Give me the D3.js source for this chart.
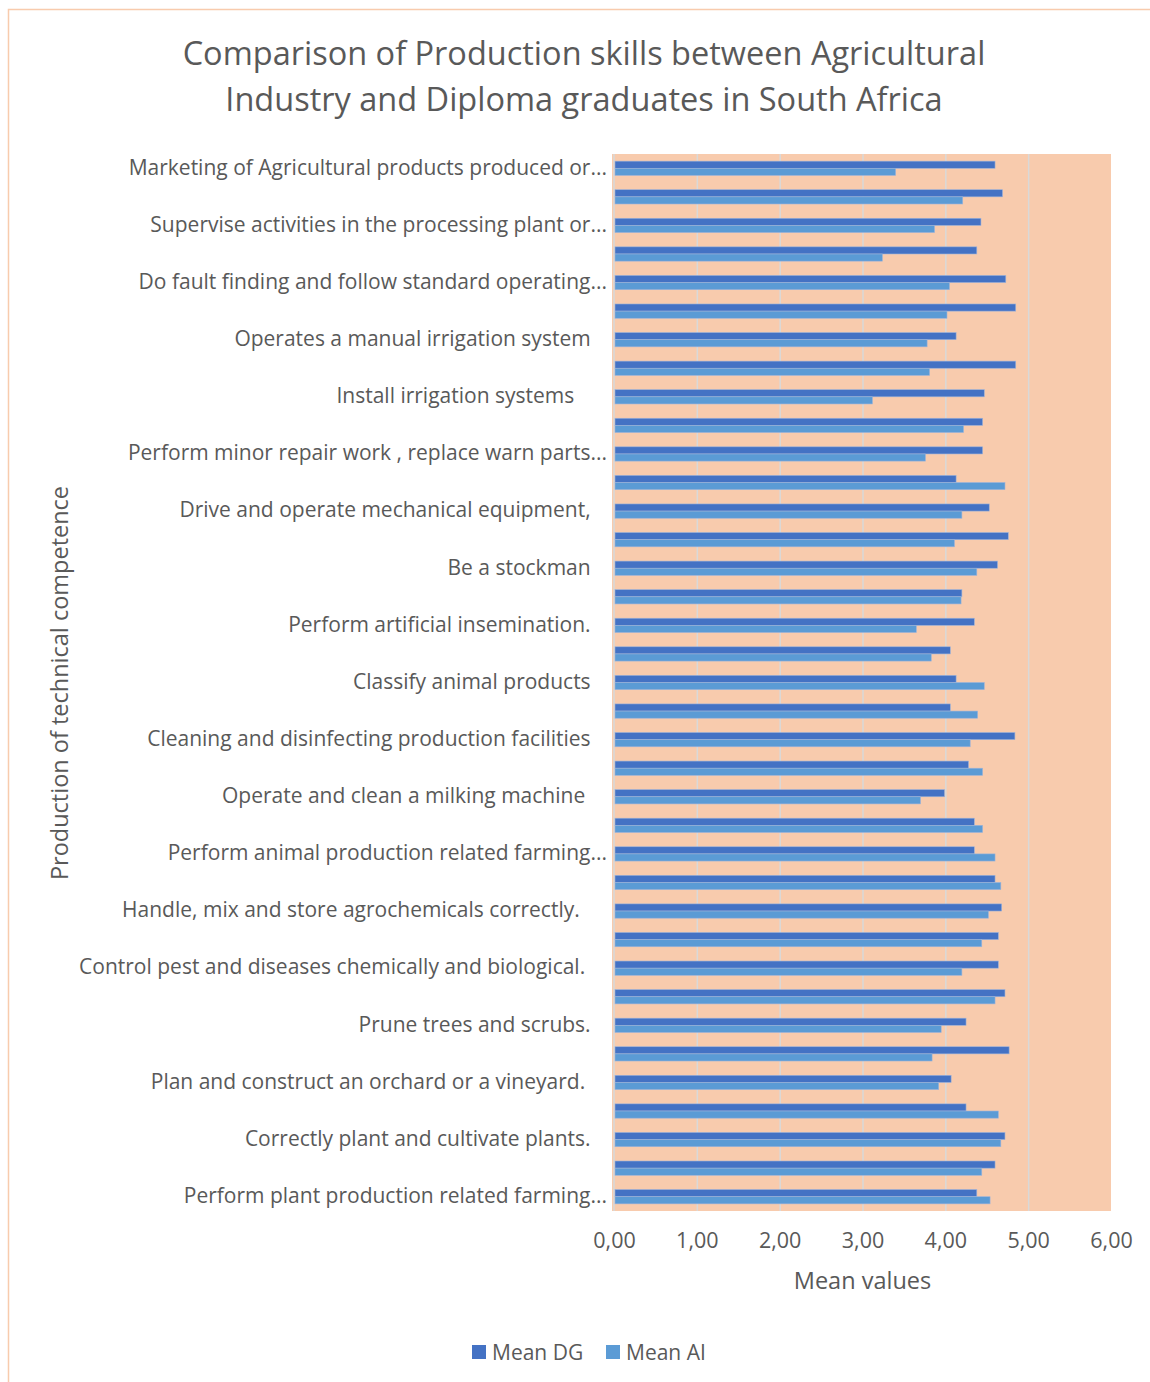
<!DOCTYPE html>
<html>
<head>
<meta charset="utf-8">
<script src="https://cdn.jsdelivr.net/npm/d3@7"></script>
<style>
  body { margin: 0; background: #fff; }
  text { font-family: "Open Sans", sans-serif; fill: #595959; }
</style>
</head>
<body>
<div id="chart"></div>
<script>
// categories top to bottom, unlabeled rows are blank in the original
var categories = [
  "Marketing of Agricultural products produced or...", "",
  "Supervise activities in the processing plant or...", "",
  "Do fault finding and follow standard operating...", "",
  "Operates a manual irrigation system   ", "",
  "Install irrigation systems      ", "",
  "Perform minor repair work , replace warn parts...", "",
  "Drive and operate mechanical equipment,   ", "",
  "Be a stockman   ", "",
  "Perform artificial insemination.   ", "",
  "Classify animal products   ", "",
  "Cleaning and disinfecting production facilities   ", "",
  "Operate and clean a milking machine    ", "",
  "Perform animal production related farming...", "",
  "Handle, mix and store agrochemicals correctly.     ", "",
  "Control pest and diseases chemically and biological.    ", "",
  "Prune trees and scrubs.   ", "",
  "Plan and construct an orchard or a vineyard.    ", "",
  "Correctly plant and cultivate plants.   ", "",
  "Perform plant production related farming..."
];

var meanDG = [4.60, 4.69, 4.43, 4.38, 4.73, 4.85, 4.13, 4.85, 4.47, 4.45,
  4.45, 4.13, 4.53, 4.76, 4.63, 4.20, 4.35, 4.06, 4.13, 4.06,
  4.84, 4.28, 3.99, 4.35, 4.35, 4.60, 4.68, 4.64, 4.64, 4.72,
  4.25, 4.77, 4.07, 4.25, 4.72, 4.60, 4.38];

var meanAI = [3.40, 4.21, 3.87, 3.24, 4.05, 4.02, 3.78, 3.81, 3.12, 4.22,
  3.76, 4.72, 4.20, 4.11, 4.38, 4.19, 3.65, 3.83, 4.47, 4.39,
  4.30, 4.45, 3.70, 4.45, 4.60, 4.67, 4.52, 4.44, 4.20, 4.60,
  3.95, 3.84, 3.92, 4.64, 4.67, 4.44, 4.54];

var seriesNames = ["Mean DG", "Mean AI"];
var seriesColors = ["#4472C4", "#5B9BD5"];
var xTicks = [0, 1, 2, 3, 4, 5, 6];

var svgWidth = 1150;
var svgHeight = 1382;

var margin = { top: 154, right: 39, bottom: 171, left: 614 };
var width = svgWidth - margin.left - margin.right;
var height = svgHeight - margin.top - margin.bottom;

var svg = d3.select("#chart")
  .append("svg")
  .attr("width", svgWidth)
  .attr("height", svgHeight);

// chart border
svg.append("rect")
  .attr("x", 8.5)
  .attr("y", 9.5)
  .attr("width", svgWidth + 10)
  .attr("height", svgHeight + 10)
  .attr("fill", "none")
  .attr("stroke", "#F8CBAD")
  .attr("stroke-width", 1.5);

// title
var title = svg.append("text")
  .attr("text-anchor", "middle")
  .style("font-size", "32.5px");
title.append("tspan").attr("x", 584).attr("y", 65)
  .text("Comparison of Production skills between Agricultural");
title.append("tspan").attr("x", 584).attr("y", 111)
  .text("Industry and Diploma graduates in South Africa");

var chartGroup = svg.append("g")
  .attr("transform", `translate(${margin.left}, ${margin.top})`);

var idx = d3.range(categories.length);

var xScale = d3.scaleLinear().domain([0, 6]).range([0, width]);
var yScale = d3.scaleBand().domain(idx).range([0, height])
  .paddingInner(0.5).paddingOuter(0.25);
var ySub = d3.scaleBand().domain([0, 1]).range([0, yScale.bandwidth()]);

// plot background
chartGroup.append("rect")
  .attr("x", -2)
  .attr("y", 0)
  .attr("width", width + 2)
  .attr("height", height)
  .attr("fill", "#F8CBAD");

// gridlines
var grid = chartGroup.append("g")
  .call(d3.axisBottom(xScale).tickValues(xTicks).tickSize(height).tickFormat(""));
grid.select(".domain").remove();
grid.selectAll("line")
  .attr("stroke", "#D9D9D9")
  .attr("stroke-width", 1.5)
  .filter(d => d === 0 || d === 6).remove();

// left axis line
chartGroup.append("line")
  .attr("x1", 0).attr("x2", 0)
  .attr("y1", 0).attr("y2", height)
  .attr("stroke", "#D9D9D9")
  .attr("stroke-width", 1.5);

// bars
var series = [meanDG, meanAI];
series.forEach(function(vals, s) {
  chartGroup.append("g")
    .selectAll("rect")
    .data(vals)
    .enter()
    .append("rect")
    .attr("x", 1)
    .attr("y", (d, i) => yScale(i) + ySub(s))
    .attr("width", d => xScale(d) - 1)
    .attr("height", ySub.bandwidth())
    .attr("fill", seriesColors[s])
    .attr("stroke", "#9DB3DA")
    .attr("stroke-width", 0.6);
});

// category labels
var leftAxis = chartGroup.append("g")
  .call(d3.axisLeft(yScale).tickSize(0).tickPadding(7).tickFormat(i => categories[i]));
leftAxis.select(".domain").remove();
leftAxis.selectAll("text")
  .style("font-size", "21px")
  .style("white-space", "pre")
  .attr("fill", "#595959")
  .attr("dy", "0.3em");

// x axis labels
var bottomAxis = chartGroup.append("g")
  .attr("transform", `translate(0, ${height})`)
  .call(d3.axisBottom(xScale).tickValues(xTicks).tickSize(0).tickPadding(22)
    .tickFormat(d => d3.format(".2f")(d).replace(".", ",")));
bottomAxis.select(".domain").remove();
bottomAxis.selectAll("text")
  .style("font-size", "21.5px")
  .attr("fill", "#595959");

// axis titles
chartGroup.append("text")
  .attr("x", width / 2)
  .attr("y", height + 78)
  .attr("text-anchor", "middle")
  .style("font-size", "23.5px")
  .text("Mean values");

svg.append("text")
  .attr("transform", "rotate(-90)")
  .attr("x", -683)
  .attr("y", 68)
  .attr("text-anchor", "middle")
  .style("font-size", "23.5px")
  .text("Production of technical competence");

// legend
var legend = svg.append("g").attr("transform", "translate(472, 1352)");
var lx = [0, 134];
seriesNames.forEach(function(name, s) {
  legend.append("rect")
    .attr("x", lx[s])
    .attr("y", -7)
    .attr("width", 14)
    .attr("height", 14)
    .attr("fill", seriesColors[s]);
  legend.append("text")
    .attr("x", lx[s] + 20)
    .attr("y", 8)
    .style("font-size", "21px")
    .text(name);
});
</script>
</body>
</html>
